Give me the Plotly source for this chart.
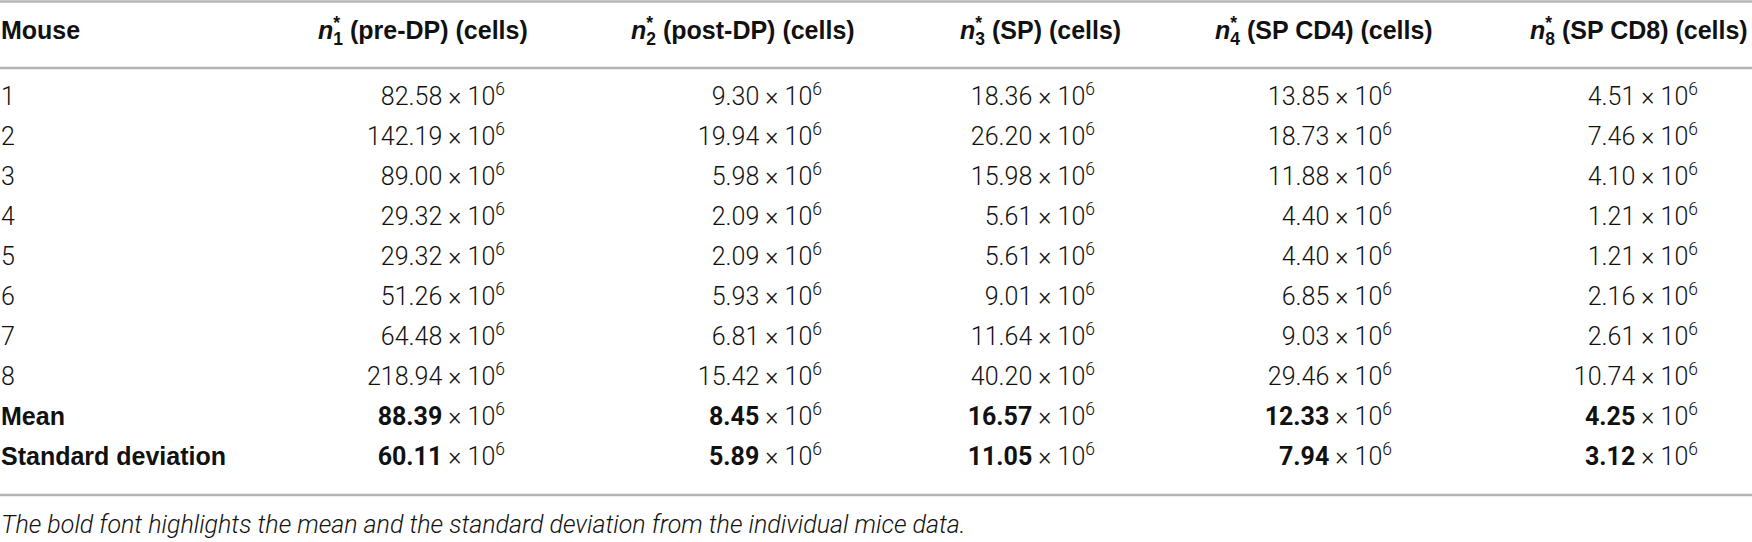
import plotly.graph_objects as go

# ---------------- data ----------------
row_labels = ["1", "2", "3", "4", "5", "6", "7", "8"]
summary_labels = ["Mean", "Standard deviation"]
first_header = "Mouse"
header_subs = ["1", "2", "3", "4", "8"]
header_names = ["(pre-DP) (cells)", "(post-DP) (cells)", "(SP) (cells)",
                "(SP CD4) (cells)", "(SP CD8) (cells)"]

n1_pre_dp = [82.58, 142.19, 89.00, 29.32, 29.32, 51.26, 64.48, 218.94]
n2_post_dp = [9.30, 19.94, 5.98, 2.09, 2.09, 5.93, 6.81, 15.42]
n3_sp = [18.36, 26.20, 15.98, 5.61, 5.61, 9.01, 11.64, 40.20]
n4_sp_cd4 = [13.85, 18.73, 11.88, 4.40, 4.40, 6.85, 9.03, 29.46]
n8_sp_cd8 = [4.51, 7.46, 4.10, 1.21, 1.21, 2.16, 2.61, 10.74]

means = [88.39, 8.45, 16.57, 12.33, 4.25]
std_devs = [60.11, 5.89, 11.05, 7.94, 3.12]

exponent = 6
caption = ("The bold font highlights the mean and the standard deviation "
           "from the individual mice data.")

columns = [n1_pre_dp, n2_post_dp, n3_sp, n4_sp_cd4, n8_sp_cd8]

# ---------------- layout constants ----------------
W, H = 1752, 542
ROW1_PX, ROW_STEP = 99.0, 40.0


def px_to_row(p):
    return 1 + (p - ROW1_PX) / ROW_STEP


Y_HEADER = px_to_row(33)
Y_TOP_LINE = px_to_row(1.5)
Y_HEAD_LINE = px_to_row(68)
Y_BOTTOM_LINE = px_to_row(495)
Y_CAPTION = px_to_row(527)

LABEL_X = 1
HEADER_START = [318, 631, 960, 1215, 1530]
VALUE_END = [505, 822, 1095, 1392, 1698]

BOLD_FAMILY = "Liberation Sans"
LIGHT_FAMILY = "Roboto"
FS = 25
TXT = "#111111"
LINE_COLOR = "#b4b4b4"

fig = go.Figure()

n_rows = len(row_labels)
body_y = list(range(1, n_rows + 1))
sum_y = [n_rows + 1, n_rows + 2]

# row labels
fig.add_trace(go.Scatter(
    x=[LABEL_X] * n_rows, y=body_y, mode="text", text=row_labels,
    textposition="middle right", hoverinfo="skip",
    textfont=dict(family=LIGHT_FAMILY, size=FS, color=TXT, weight=300)))
fig.add_trace(go.Scatter(
    x=[LABEL_X] * 3, y=[Y_HEADER] + sum_y, mode="text",
    text=[first_header] + summary_labels,
    textposition="middle right", hoverinfo="skip",
    textfont=dict(family=BOLD_FAMILY, size=FS, color=TXT, weight="bold")))

# headers: n with stacked sub/superscript
for i in range(len(columns)):
    xs = HEADER_START[i]
    fig.add_trace(go.Scatter(
        x=[xs], y=[Y_HEADER], mode="text",
        text=["<i>n</i><sub>%s</sub> %s" % (header_subs[i], header_names[i])],
        textposition="middle right", hoverinfo="skip",
        textfont=dict(family=BOLD_FAMILY, size=FS, color=TXT, weight="bold")))
    fig.add_trace(go.Scatter(
        x=[xs], y=[Y_HEADER], mode="text",
        text=['<span style="color:rgba(0,0,0,0)"><i>n</i></span><sup>*</sup>'],
        textposition="middle right", hoverinfo="skip",
        textfont=dict(family=BOLD_FAMILY, size=FS, color=TXT, weight="bold")))

# body values
for i, col in enumerate(columns):
    txt = ["%.2f \u00d7 10<sup>%d</sup>" % (v, exponent) for v in col]
    txt += ["<b>%.2f</b> \u00d7 10<sup>%d</sup>" % (means[i], exponent),
            "<b>%.2f</b> \u00d7 10<sup>%d</sup>" % (std_devs[i], exponent)]
    fig.add_trace(go.Scatter(
        x=[VALUE_END[i]] * len(txt), y=body_y + sum_y, mode="text", text=txt,
        textposition="middle left", hoverinfo="skip",
        textfont=dict(family=LIGHT_FAMILY, size=FS, color=TXT, weight=300)))

# caption
fig.add_trace(go.Scatter(
    x=[LABEL_X], y=[Y_CAPTION], mode="text", text=[caption],
    textposition="middle right", hoverinfo="skip",
    textfont=dict(family=LIGHT_FAMILY, size=FS, color=TXT, weight=300,
                  style="italic")))

# rules
for yv in [Y_TOP_LINE, Y_HEAD_LINE, Y_BOTTOM_LINE]:
    fig.add_shape(type="line", xref="paper", yref="y", x0=0, x1=1, y0=yv, y1=yv,
                  line=dict(color=LINE_COLOR, width=2.5))

fig.update_layout(
    width=W, height=H, margin=dict(l=0, r=0, t=0, b=0),
    paper_bgcolor="white", plot_bgcolor="white", showlegend=False,
    xaxis=dict(range=[0, W], visible=False, fixedrange=True),
    yaxis=dict(range=[px_to_row(H), px_to_row(0)], visible=False, fixedrange=True),
)

fig.write_html("out.html", config={"displayModeBar": False, "staticPlot": True},
               post_script="document.body.style.margin='0';document.body.style.overflow='hidden';")
